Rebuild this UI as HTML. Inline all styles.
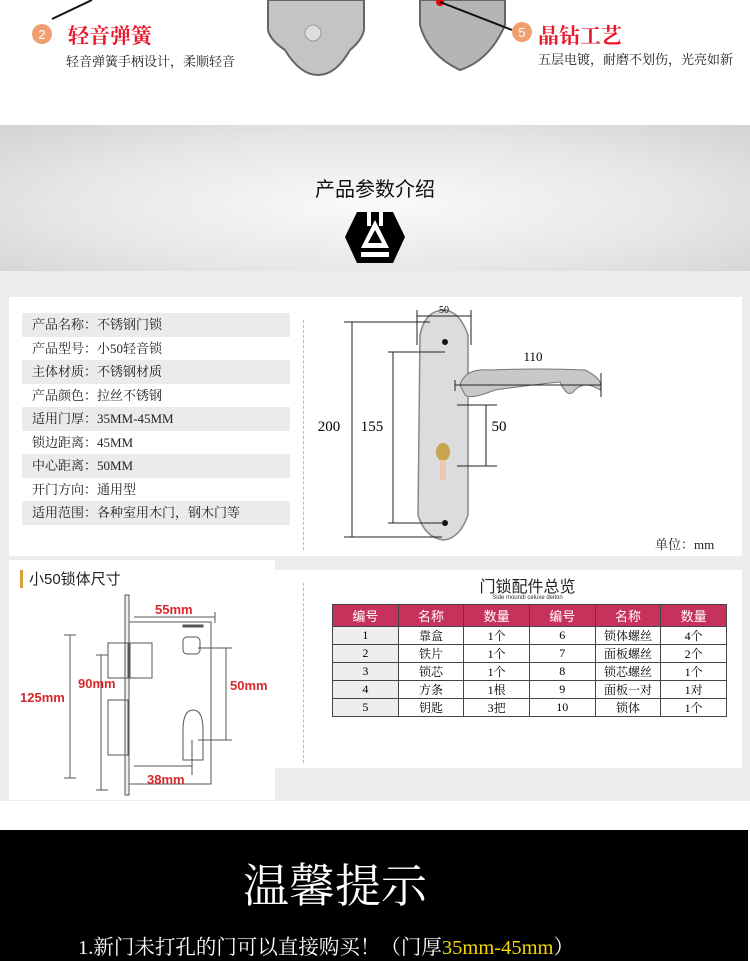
<!DOCTYPE html>
<html><head><meta charset="utf-8"><style>
*{margin:0;padding:0;box-sizing:border-box}
body{width:750px;height:961px;position:relative;background:#fff;font-family:"Liberation Serif","Noto Serif CJK SC",serif;overflow:hidden}
.a{position:absolute}
.sans{font-family:"Liberation Sans","Noto Sans CJK SC",sans-serif}
.spec div{height:23.5px;line-height:23.5px;font-size:13px;padding-left:10px;color:#222}
.spec div:nth-child(odd){background:#ebebeb}
table{border-collapse:collapse;font-size:12px}
td{border:1px solid #444;text-align:center;height:16.5px;width:65.8px;padding:0}
th{background:#c7325c;color:#fff;height:22px;border:1px solid #444;font-weight:normal;font-family:"Liberation Sans","Noto Sans CJK SC",sans-serif;font-size:13px}
</style></head><body>
<!-- top -->
<svg class="a" style="left:0;top:0" width="750" height="125">
<line x1="52" y1="19" x2="92" y2="0" stroke="#111" stroke-width="2"/>
<path d="M268 0 L268 30 Q270 40 285 50 Q300 75 318 75 Q336 75 350 50 Q362 40 364 30 L364 0 Z" fill="#c4c4c4" stroke="#666" stroke-width="2"/>
<ellipse cx="313" cy="33" rx="8" ry="8" fill="#ddd" stroke="#999"/>
<path d="M420 0 L420 25 Q428 55 460 70 Q490 60 505 25 L505 0 Z" fill="#b5b5b5" stroke="#666" stroke-width="2"/>
<circle cx="440" cy="2" r="4" fill="#e00"/>
<line x1="440" y1="2" x2="512" y2="30" stroke="#111" stroke-width="2"/>
<circle cx="42" cy="34" r="10" fill="#f0a070"/><text x="42" y="39" font-size="13" fill="#fff" text-anchor="middle" font-family="Liberation Sans">2</text>
<circle cx="522" cy="32" r="10" fill="#f0a070"/><text x="522" y="37" font-size="13" fill="#fff" text-anchor="middle" font-family="Liberation Sans">5</text>
</svg>
<div class="a" style="left:68px;top:20px;font-size:21px;color:#e8192c;font-weight:bold">轻音弹簧</div>
<div class="a" style="left:66px;top:51px;font-size:13px;color:#222">轻音弹簧手柄设计，柔顺轻音</div>
<div class="a" style="left:538px;top:20px;font-size:21px;color:#e8192c;font-weight:bold">晶钻工艺</div>
<div class="a" style="left:538px;top:49px;font-size:13px;color:#222;white-space:nowrap">五层电镀，耐磨不划伤，光亮如新</div>
<!-- gray band -->
<div class="a" style="left:0;top:125px;width:750px;height:146px;background:radial-gradient(ellipse at 50% 55%,#fafafa 0%,#e6e6e6 60%,#d2d2d2 100%)"></div>
<div class="a sans" style="left:0;top:173px;width:750px;text-align:center;font-size:20px;color:#111">产品参数介绍</div>
<svg class="a" style="left:345px;top:210px" width="60" height="55"><polygon points="12,2 48,2 60,27 48,53 12,53 0,27" fill="#000"/><polygon points="30,10 44,38 16,38" fill="#fff"/><polygon points="30,20 37,33 23,33" fill="#000"/><rect x="16" y="42" width="28" height="5" fill="#fff"/><rect x="22" y="2" width="4" height="14" fill="#fff"/><rect x="34" y="2" width="4" height="14" fill="#fff"/></svg>
<!-- bg -->
<div class="a" style="left:0;top:271px;width:750px;height:530px;background:#ececec"></div>
<div class="a" style="left:9px;top:297px;width:733px;height:259px;background:#fff"></div>
<div class="spec a" style="left:22px;top:313px;width:268px">
<div>产品名称：不锈钢门锁</div><div>产品型号：小50轻音锁</div><div>主体材质：不锈钢材质</div><div>产品颜色：拉丝不锈钢</div><div>适用门厚：35MM-45MM</div><div>锁边距离：45MM</div><div>中心距离：50MM</div><div>开门方向：通用型</div><div>适用范围：各种室用木门，钢木门等</div>
</div>
<div class="a" style="left:303px;top:320px;height:230px;border-left:1px dashed #bbb"></div>
<svg class="a" style="left:300px;top:290px" width="450" height="265" font-family="Liberation Serif">
<path d="M120 45 Q125 20 145 20 Q160 22 168 45 L168 225 Q160 248 144 250 Q125 248 118 225 Z" fill="#dcdcdc" stroke="#888" stroke-width="1.5"/>
<path d="M160 95 Q165 78 190 80 Q240 78 285 80 Q305 90 300 100 Q285 90 275 100 Q268 110 260 92 Q230 95 195 100 Q170 110 165 105 Z" fill="#c8c8c8" stroke="#777"/>
<ellipse cx="143" cy="162" rx="7" ry="9" fill="#c8a450"/><rect x="140" y="170" width="6" height="20" fill="#e8c8b0"/>
<circle cx="145" cy="52" r="3" fill="#111"/><circle cx="145" cy="233" r="3" fill="#111"/>
<g stroke="#222" stroke-width="1" fill="none">
<line x1="52" y1="32" x2="52" y2="247"/><line x1="44" y1="32" x2="130" y2="32"/><line x1="44" y1="247" x2="142" y2="247"/>
<line x1="93" y1="62" x2="93" y2="233"/><line x1="88" y1="62" x2="145" y2="62"/><line x1="88" y1="233" x2="145" y2="233"/>
<line x1="117" y1="20" x2="117" y2="55"/><line x1="171" y1="20" x2="171" y2="55"/><line x1="117" y1="26" x2="171" y2="26"/>
<line x1="155" y1="90" x2="155" y2="101"/><line x1="155" y1="95" x2="301" y2="95"/><line x1="301" y1="83" x2="301" y2="107"/>
<line x1="157" y1="115" x2="197" y2="115"/><line x1="157" y1="176" x2="197" y2="176"/><line x1="186" y1="115" x2="186" y2="176"/>
</g>
<text x="144" y="23" font-size="10" text-anchor="middle">50</text>
<text x="233" y="71" font-size="13" text-anchor="middle">110</text>
<text x="29" y="141" font-size="15" text-anchor="middle">200</text>
<text x="72" y="141" font-size="15" text-anchor="middle">155</text>
<text x="199" y="141" font-size="15" text-anchor="middle">50</text>
</svg>
<div class="a" style="left:655px;top:534px;font-size:13px;color:#222">单位：mm</div>
<!-- lower left -->
<div class="a" style="left:9px;top:560px;width:266px;height:240px;background:#fff"></div>
<div class="a" style="left:20px;top:570px;width:3px;height:18px;background:#d9a040"></div>
<div class="a sans" style="left:29px;top:568px;font-size:15px;color:#222">小50锁体尺寸</div>
<svg class="a" style="left:0;top:590px" width="275" height="210" font-family="Liberation Sans" font-weight="bold">
<g stroke="#555" fill="none">
<rect x="125" y="5" width="4" height="200" fill="#eee"/>
<rect x="129" y="32" width="82" height="162" fill="#fff"/>
<rect x="108" y="53" width="20" height="35"/><rect x="108" y="110" width="20" height="55"/><rect x="130" y="53" width="22" height="35"/>
<rect x="183" y="35" width="20" height="2" fill="#555"/>
<rect x="183" y="47" width="17" height="17" rx="4"/>
<path d="M183 140 Q183 120 193 120 Q203 120 203 140 L203 170 L183 170 Z"/>
<line x1="70" y1="45" x2="70" y2="188"/><line x1="64" y1="45" x2="76" y2="45"/><line x1="64" y1="188" x2="76" y2="188"/>
<line x1="101" y1="65" x2="101" y2="200"/><line x1="96" y1="65" x2="108" y2="65"/><line x1="96" y1="200" x2="108" y2="200"/>
<line x1="134" y1="27" x2="215" y2="27"/><line x1="215" y1="22" x2="215" y2="33"/>
<line x1="226" y1="58" x2="226" y2="150"/><line x1="198" y1="58" x2="232" y2="58"/><line x1="198" y1="150" x2="232" y2="150"/>
<line x1="134" y1="176" x2="192" y2="176"/><line x1="192" y1="150" x2="192" y2="185"/>
</g>
<g fill="#d8282e" font-size="13">
<text x="155" y="24">55mm</text><text x="78" y="98">90mm</text><text x="20" y="112">125mm</text><text x="230" y="100">50mm</text><text x="147" y="194">38mm</text>
</g>
</svg>
<!-- lower right -->
<div class="a" style="left:275px;top:570px;width:467px;height:198px;background:#fff"></div>
<div class="a" style="left:303px;top:583px;height:180px;border-left:1px dashed #bbb"></div>
<div class="a sans" style="left:275px;top:573px;width:505px;text-align:center;font-size:16px;color:#222">门锁配件总览</div>
<div class="a sans" style="left:275px;top:595px;width:505px;text-align:center;font-size:6px;color:#333">Side moundi celuxe deiton</div>
<table class="a" style="left:332px;top:604px;width:395px">
<tr><th>编号</th><th>名称</th><th>数量</th><th>编号</th><th>名称</th><th>数量</th></tr>
<tr><td style="background:#eee">1</td><td>靠盒</td><td>1个</td><td>6</td><td>锁体螺丝</td><td>4个</td></tr>
<tr><td style="background:#eee">2</td><td>铁片</td><td>1个</td><td>7</td><td>面板螺丝</td><td>2个</td></tr>
<tr><td style="background:#eee">3</td><td>锁芯</td><td>1个</td><td>8</td><td>锁芯螺丝</td><td>1个</td></tr>
<tr><td style="background:#eee">4</td><td>方条</td><td>1根</td><td>9</td><td>面板一对</td><td>1对</td></tr>
<tr><td style="background:#eee">5</td><td>钥匙</td><td>3把</td><td>10</td><td>锁体</td><td>1个</td></tr>
</table>
<!-- black -->
<div class="a" style="left:0;top:830px;width:748px;height:131px;background:#000"></div>
<div class="a" style="left:243px;top:850px;font-size:46px;color:#fff;white-space:nowrap">温馨提示</div>
<div class="a" style="left:78px;top:930px;font-size:20.5px;color:#fff;white-space:nowrap">1.新门未打孔的门可以直接购买！（门厚<span style="color:#f5d800">35mm-45mm</span>）</div>
</body></html>
